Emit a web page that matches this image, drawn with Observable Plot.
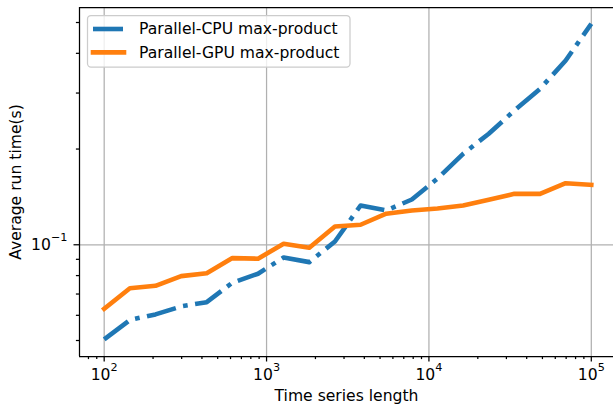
<!DOCTYPE html>
<html>
<head>
<meta charset="utf-8">
<script src="https://cdn.jsdelivr.net/npm/d3@7"></script>
<script src="https://cdn.jsdelivr.net/npm/@observablehq/plot@0.6"></script>
<style>
  html, body { margin: 0; padding: 0; background: #fff; }
  #chart { width: 613px; height: 405px; overflow: hidden; }
</style>
</head>
<body>
<div id="chart"></div>
<script>
// Time series lengths (log-spaced from 10^2 to 10^5)
const lengths = [100, 144, 207, 298, 428, 616, 886, 1274, 1833, 2637,
                 3793, 5456, 7848, 11288, 16238, 23357, 33598, 48329, 69519, 100000];

// Average run time (s) per implementation
const cpuTimes = [0.0504, 0.0580, 0.0604, 0.0640, 0.0660, 0.0760, 0.0811, 0.0912, 0.0882, 0.1024,
                  0.1329, 0.1282, 0.1388, 0.1616, 0.1932, 0.2234, 0.2644, 0.3094, 0.3798, 0.4955];
const gpuTimes = [0.0629, 0.0730, 0.0743, 0.0797, 0.0814, 0.0908, 0.0904, 0.1007, 0.0979, 0.1142,
                  0.1156, 0.1252, 0.1282, 0.1301, 0.1329, 0.1385, 0.1446, 0.1446, 0.1562, 0.1544];

const seriesNames = ["Parallel-CPU max-product", "Parallel-GPU max-product"];
const seriesColors = ["#1f77b4", "#ff7f0e"];

// Axis ticks
const xTicks = [100, 1000, 10000, 100000];
const xTickLabels = ["10²", "10³", "10⁴", "10⁵"];
const xMinorTicks = [80, 90,
  200, 300, 400, 500, 600, 700, 800, 900,
  2000, 3000, 4000, 5000, 6000, 7000, 8000, 9000,
  20000, 30000, 40000, 50000, 60000, 70000, 80000, 90000];
const yTicks = [0.1];
const yTickLabels = ["10⁻¹"];
const yMinorTicks = [0.05, 0.06, 0.07, 0.08, 0.09, 0.2, 0.3, 0.4, 0.5];

const xDomain = [10 ** 1.848, 10 ** 5.1367];
const yDomain = [0.04453, 0.5574];

const rows = [
  ...lengths.map((n, i) => ({length: n, time: cpuTimes[i], series: seriesNames[0]})),
  ...lengths.map((n, i) => ({length: n, time: gpuTimes[i], series: seriesNames[1]}))
];

const FONT = "'DejaVu Sans', sans-serif";
const FS = 15.6;
const LW = 4.6;
const SPINE = 1.25;
const dashDot = [30, 7.5, 4.7, 7.5].join(",");

const chart = Plot.plot({
  width: 613,
  height: 405,
  marginLeft: 79,
  marginRight: 0,
  marginTop: 7,
  marginBottom: 49,
  style: {fontFamily: FONT, fontSize: FS + "px", color: "black", background: "white", overflow: "visible"},
  x: {type: "log", domain: xDomain, label: null},
  y: {type: "log", domain: yDomain, label: null},
  marks: [
    Plot.gridX(xTicks, {stroke: "#b0b0b0", strokeOpacity: 1, strokeWidth: SPINE}),
    Plot.gridY(yTicks, {stroke: "#b0b0b0", strokeOpacity: 1, strokeWidth: SPINE}),
    Plot.line(rows.filter(d => d.series === seriesNames[0]), {
      x: "length", y: "time", stroke: seriesColors[0], strokeWidth: LW,
      strokeDasharray: dashDot, strokeLinecap: "butt", strokeLinejoin: "round"
    }),
    Plot.line(rows.filter(d => d.series === seriesNames[1]), {
      x: "length", y: "time", stroke: seriesColors[1], strokeWidth: LW,
      strokeLinecap: "square", strokeLinejoin: "round"
    }),
    // spines: left, bottom, top
    Plot.ruleX([xDomain[0]], {stroke: "black", strokeWidth: SPINE}),
    Plot.ruleY([yDomain[0], yDomain[1]], {stroke: "black", strokeWidth: SPINE}),
    // x axis
    Plot.axisX(xTicks, {
      tickSize: 5.5, tickPadding: 6.5, strokeWidth: SPINE, label: null,
      tickFormat: d => xTickLabels[xTicks.indexOf(d)]
    }),
    Plot.axisX(xMinorTicks, {tickSize: 3.1, strokeWidth: SPINE, label: null, tickFormat: () => ""}),
    // y axis
    Plot.axisY(yTicks, {
      tickSize: 5.5, tickPadding: 6.5, strokeWidth: SPINE, label: null,
      tickFormat: d => yTickLabels[yTicks.indexOf(d)]
    }),
    Plot.axisY(yMinorTicks, {tickSize: 3.1, strokeWidth: SPINE, label: null, tickFormat: () => ""}),
    // axis titles
    Plot.text(["Time series length"], {
      frameAnchor: "bottom", dy: 39.7, text: d => d,
      textAnchor: "middle", lineAnchor: "middle", fontSize: FS, fill: "black"
    }),
    Plot.text(["Average run time(s)"], {
      frameAnchor: "left", dx: -63.5, rotate: -90, text: d => d,
      textAnchor: "middle", lineAnchor: "middle", fontSize: FS, fill: "black"
    })
  ]
});

const svg = d3.select(chart);

// Typeset power-of-ten tick labels with a raised, smaller exponent
const supDigits = {"⁰": "0", "¹": "1", "²": "2", "³": "3", "⁴": "4", "⁵": "5",
                   "⁶": "6", "⁷": "7", "⁸": "8", "⁹": "9", "⁻": "\u2212"};
svg.selectAll("text").each(function () {
  const label = this.textContent;
  const m = /^(\d+)([⁰¹²³⁴⁵⁶⁷⁸⁹⁻]+)$/.exec(label);
  if (!m) return;
  const t = d3.select(this);
  t.text(null);
  t.append("tspan").text(m[1]);
  t.append("tspan")
    .attr("font-size", (FS * 0.72).toFixed(2))
    .attr("dy", "-0.75em")
    .text([...m[2]].map(c => supDigits[c]).join(""));
});

// Legend box in the upper-left corner of the axes
const legend = svg.append("g")
  .attr("font-family", FONT).attr("font-size", FS).attr("text-anchor", "start");
legend.append("rect")
  .attr("x", 87.5).attr("y", 15.5).attr("width", 262.5).attr("height", 51.5)
  .attr("rx", 3.5).attr("ry", 3.5)
  .attr("fill", "white").attr("fill-opacity", 0.8)
  .attr("stroke", "#cccccc").attr("stroke-width", SPINE);
seriesNames.forEach((name, i) => {
  const cy = 29 + i * 23.4;
  legend.append("line")
    .attr("x1", 93).attr("x2", 124).attr("y1", cy).attr("y2", cy)
    .attr("stroke", seriesColors[i]).attr("stroke-width", LW)
    .attr("stroke-linecap", i === 0 ? "butt" : "square")
    .attr("stroke-dasharray", i === 0 ? dashDot : null);
  legend.append("text")
    .attr("x", 139).attr("y", cy).attr("dy", "0.35em")
    .attr("fill", "black")
    .text(name);
});

document.getElementById("chart").appendChild(chart);
</script>
</body>
</html>
